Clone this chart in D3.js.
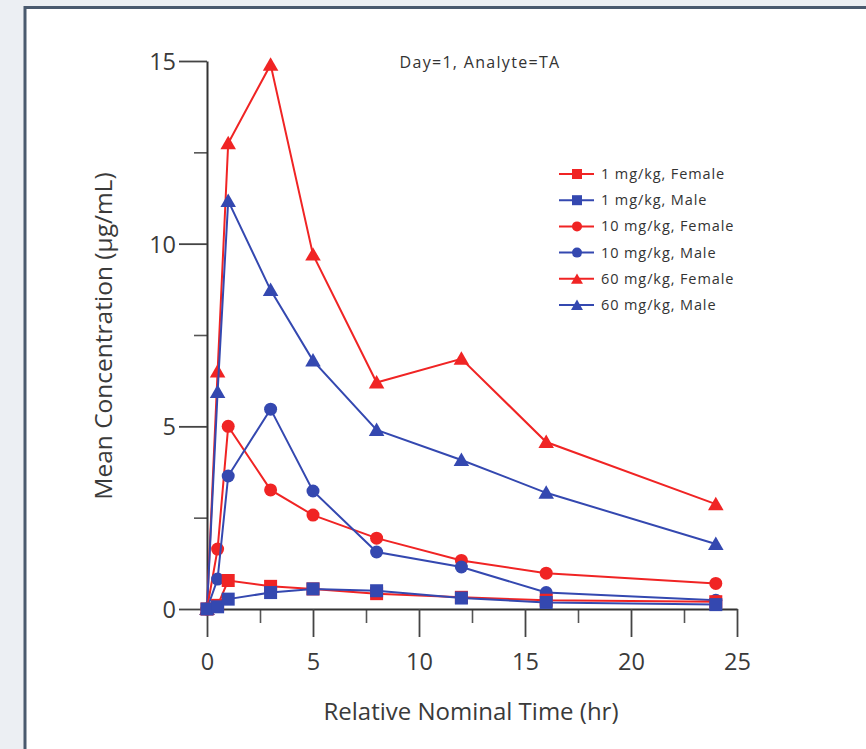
<!DOCTYPE html>
<html>
<head>
<meta charset="utf-8">
<script src="https://cdn.jsdelivr.net/npm/d3@7"></script>
<style>
  html, body { margin: 0; padding: 0; background: #eceff3; }
  svg { display: block; }
</style>
</head>
<body>
<svg id="chart" width="866" height="749"></svg>
<script>
const times = [0, 0.5, 1, 3, 5, 8, 12, 16, 24];
const f1  = [0, 0.10, 0.78, 0.62, 0.55, 0.42, 0.32, 0.24, 0.20];
const m1  = [0, 0.06, 0.27, 0.45, 0.55, 0.50, 0.30, 0.18, 0.12];
const f10 = [0, 1.64, 5.00, 3.26, 2.57, 1.94, 1.33, 0.98, 0.70];
const m10 = [0, 0.82, 3.64, 5.47, 3.23, 1.56, 1.15, 0.45, 0.24];
const f60 = [0, 6.50, 12.75, 14.90, 9.70, 6.20, 6.85, 4.57, 2.87];
const m60 = [0, 5.94, 11.17, 8.73, 6.80, 4.90, 4.08, 3.18, 1.78];
const seriesNames = ["1 mg/kg, Female", "1 mg/kg, Male", "10 mg/kg, Female", "10 mg/kg, Male", "60 mg/kg, Female", "60 mg/kg, Male"];
const seriesValues = [f1, m1, f10, m10, f60, m60];
const seriesColors = ["#f02424", "#3448b0", "#f02424", "#3448b0", "#f02424", "#3448b0"];
const seriesShapes = ["square", "square", "circle", "circle", "triangle", "triangle"];
const xMajor = [0, 5, 10, 15, 20, 25];
const xMinor = [2.5, 7.5, 12.5, 17.5, 22.5];
const yMajor = [0, 5, 10, 15];
const yMinor = [2.5, 7.5, 12.5];

const svg = d3.select("#chart");
const font = "'Open Sans', 'Noto Sans', sans-serif";

// frame panel
svg.append("rect").attr("x", 0).attr("y", 0).attr("width", 866).attr("height", 749).attr("fill", "#eceff3");
svg.append("rect").attr("x", 25).attr("y", 7.5).attr("width", 845).attr("height", 750)
  .attr("fill", "#ffffff").attr("stroke", "#4a5a6e").attr("stroke-width", 3);

const x = d3.scaleLinear().domain([0, 25]).range([207, 737]);
const y = d3.scaleLinear().domain([0, 15]).range([609, 61]);

const axisColor = "#333";

// minor ticks
const gxMinor = svg.append("g").attr("transform", "translate(0,609)")
  .call(d3.axisBottom(x).tickValues(xMinor).tickSize(14).tickFormat(""));
const gyMinor = svg.append("g").attr("transform", "translate(207,0)")
  .call(d3.axisLeft(y).tickValues(yMinor).tickSize(13).tickFormat(""));
[gxMinor, gyMinor].forEach(g => {
  g.select(".domain").remove();
  g.selectAll("line").attr("stroke", "#555").attr("stroke-width", 1.6);
});

const gx = svg.append("g").attr("transform", "translate(0,609)")
  .call(d3.axisBottom(x).tickValues(xMajor).tickSize(28).tickSizeOuter(0).tickPadding(10).tickFormat(d3.format("d")));
const gy = svg.append("g").attr("transform", "translate(207,0)")
  .call(d3.axisLeft(y).tickValues(yMajor).tickSize(28).tickSizeOuter(0).tickPadding(3).tickFormat(d3.format("d")));
[gx, gy].forEach(g => {
  g.select(".domain").attr("stroke", axisColor).attr("stroke-width", 2);
  g.selectAll(".tick line").attr("stroke", "#444").attr("stroke-width", 1.8);
  g.selectAll(".tick text").attr("fill", "#3a3a3a").attr("font-family", font).attr("font-size", 23.5);
});
gx.selectAll(".tick text").attr("y", 61).attr("dy", 0);
gy.selectAll(".tick text").attr("dy", "0.36em");

// axis titles
svg.append("text").attr("x", 471).attr("y", 720).attr("text-anchor", "middle")
  .attr("font-family", font).attr("font-size", 24).attr("fill", "#3a3a3a")
  .text("Relative Nominal Time (hr)");
svg.append("text").attr("transform", "translate(112,336) rotate(-90)").attr("text-anchor", "middle")
  .attr("font-family", font).attr("font-size", 24.5).attr("fill", "#3a3a3a")
  .text("Mean Concentration (μg/mL)");

// title
svg.append("text").attr("x", 480).attr("y", 68).attr("text-anchor", "middle")
  .attr("font-family", font).attr("font-size", 16).attr("letter-spacing", 1.3).attr("fill", "#333")
  .text("Day=1, Analyte=TA");

function drawMarker(g, shape, cx, cy, color, s) {
  if (shape === "square") {
    g.append("rect").attr("x", cx - s / 2).attr("y", cy - s / 2).attr("width", s).attr("height", s).attr("fill", color);
  } else if (shape === "circle") {
    g.append("circle").attr("cx", cx).attr("cy", cy).attr("r", s / 2).attr("fill", color);
  } else {
    const sym = d3.symbol().type(d3.symbolTriangle).size(s * s * 0.62);
    g.append("path").attr("d", sym()).attr("transform", `translate(${cx},${cy + 1.5})`).attr("fill", color);
  }
}

const line = d3.line().x(d => x(d[0])).y(d => y(d[1]));
const order = [4, 5, 2, 3, 0, 1];
order.forEach(i => {
  const pts = times.map((t, k) => [t, seriesValues[i][k]]);
  const g = svg.append("g");
  g.append("path").attr("d", line(pts)).attr("fill", "none")
    .attr("stroke", seriesColors[i]).attr("stroke-width", 2);
  pts.forEach(p => drawMarker(g, seriesShapes[i], x(p[0]), y(p[1]), seriesColors[i], 13));
});

// legend
const leg = svg.append("g");
seriesNames.forEach((name, i) => {
  const ly = 174 + i * 26.2;
  leg.append("line").attr("x1", 559).attr("x2", 594).attr("y1", ly).attr("y2", ly)
    .attr("stroke", seriesColors[i]).attr("stroke-width", 2);
  drawMarker(leg, seriesShapes[i], 577, ly, seriesColors[i], 10);
  leg.append("text").attr("x", 601).attr("y", ly + 5)
    .attr("font-family", font).attr("font-size", 14.5).attr("letter-spacing", 0.9).attr("fill", "#333").text(name);
});
</script>
</body>
</html>
